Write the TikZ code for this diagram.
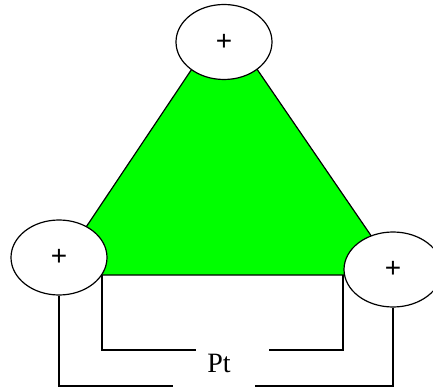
\documentclass[tikz,border=0pt]{standalone}
\usepackage{fontspec}
\setmainfont{Liberation Serif}
\setsansfont{Liberation Sans}
\usetikzlibrary{shapes.geometric}
\begin{document}
\begin{tikzpicture}[x=1pt,y=-1pt,line width=1.2pt,
  pole/.style={ellipse, draw, fill=white, minimum width=96pt, minimum height=75pt, inner sep=0pt, font=\sffamily\fontsize{28}{28}\selectfont},
  wire/.style={draw, line width=1.2pt}]
\useasboundingbox (0,0) rectangle (433,387);
\fill[green] (224,21) -- (54,275) -- (398,275) -- cycle;
\draw (224,21) -- (54,275) -- (398,275) -- cycle;
\node[pole] (top) at (224,42) {+};
\node[pole] (left) at (59,257.5) {+};
\node[pole, minimum width=98pt] (right) at (393,269.5) {+};
\node[font=\fontsize{28}{28}\selectfont, anchor=base, inner sep=0pt] (pt) at (219,372) {Pt};
\coordinate (il) at (102,275);
\coordinate (ir) at (343,275);
\coordinate (ila) at (196,350);
\coordinate (ira) at (269,350);
\coordinate (ola) at (173,386);
\coordinate (ora) at (255,386);
\draw[wire] (il) |- (ila);
\draw[wire] (ir) |- (ira);
\draw[wire] (left.south) |- (ola);
\draw[wire] (right.south) |- (ora);
\end{tikzpicture}
\end{document}
